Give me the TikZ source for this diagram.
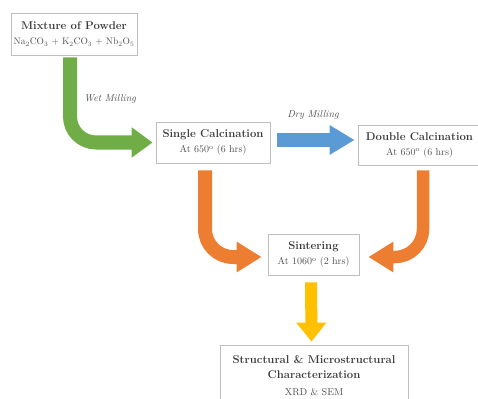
\documentclass[tikz,border=0pt]{standalone}
\usepackage{fontspec}
\usepackage{xcolor}
\usepackage{tikz}
\usetikzlibrary{arrows.meta, positioning}

\definecolor{boxline}{HTML}{BFBFBF}
\definecolor{titletext}{HTML}{3A3A3A}
\definecolor{bodytext}{HTML}{505050}
\definecolor{wetgreen}{HTML}{70AD47}
\definecolor{dryblue}{HTML}{5B9BD5}
\definecolor{sinterorange}{HTML}{ED7D31}
\definecolor{charyellow}{HTML}{FFC000}

\newcommand{\stagetitle}[1]{{\color{titletext}\fontsize{11.3}{15}\selectfont\bfseries #1}}

\begin{document}
\begin{tikzpicture}[x=1pt, y=-1pt,
    stage/.style={draw=boxline, line width=0.8pt, fill=white, align=center, inner sep=0pt,
      font=\fontsize{10}{15}\selectfont, text=bodytext},
    flow/.style={line width=14pt, rounded corners=28pt, -{Triangle[length=25pt, width=29pt]}},
    lbl/.style={font=\fontsize{10}{12}\selectfont\itshape, text=bodytext}
  ]
  \useasboundingbox (0,0) rectangle (478,398);
  \clip (0,0) rectangle (478,398);
  % Stages
  \node[stage, minimum width=126pt, minimum height=42pt] (mix) at (74,34)
    {\stagetitle{Mixture of Powder}\\ {\fontsize{9.5}{15}\selectfont Na\textsubscript{2}CO\textsubscript{3} + K\textsubscript{2}CO\textsubscript{3} + Nb\textsubscript{2}O\textsubscript{5}}};
  \node[stage, minimum width=114pt, minimum height=41pt] (single) at (213,142.5)
    {\stagetitle{Single Calcination}\\ At 650\textsuperscript{o} (6 hrs)};
  \node[stage, minimum width=123pt, minimum height=40pt] (double) at (419.5,145)
    {\stagetitle{Double Calcination}\\ At 650\textsuperscript{o} (6 hrs)};
  \node[stage, minimum width=91pt, minimum height=41pt] (sinter) at (313.5,254.5)
    {\stagetitle{Sintering}\\ At 1060\textsuperscript{o} (2 hrs)};
  \node[stage, minimum width=188pt, minimum height=61pt] (charact) at (314,375.5)
    {\stagetitle{Structural \& Microstructural}\\ \stagetitle{Characterization}\\[2pt] XRD \& SEM};
  % Milling labels
  \node[lbl] (wet) at (110,99) {Wet Milling};
  \node[lbl] (dry) at (313,115) {Dry Milling};
  % Flow arrows
  \draw[flow, wetgreen, rounded corners=26pt, -{Triangle[length=21pt, width=29pt]}, shorten <=2pt, shorten >=3pt]
    ([xshift=-4pt]mix.south) |- (single.west);
  \draw[flow, dryblue, -{Triangle[length=25pt, width=28pt]}, shorten <=7pt, shorten >=3pt]
    ([yshift=2.5pt]single.east) -- ([yshift=2.5pt]single.east -| double.west);
  \draw[flow, sinterorange, shorten <=7pt, shorten >=6pt]
    ([xshift=-8pt]single.south) |- ([yshift=-2.5pt]sinter.west);
  \draw[flow, sinterorange, line width=12.5pt, shorten <=5pt, shorten >=9pt]
    ([xshift=3.5pt]double.south) |- ([yshift=-2.5pt]sinter.east);
  \draw[flow, charyellow, line width=12pt, -{Triangle[length=19pt, width=29pt]}, shorten <=7pt, shorten >=3pt]
    ([xshift=-2.5pt]sinter.south) -- ([xshift=-2.5pt]charact.north);
\end{tikzpicture}
\end{document}
